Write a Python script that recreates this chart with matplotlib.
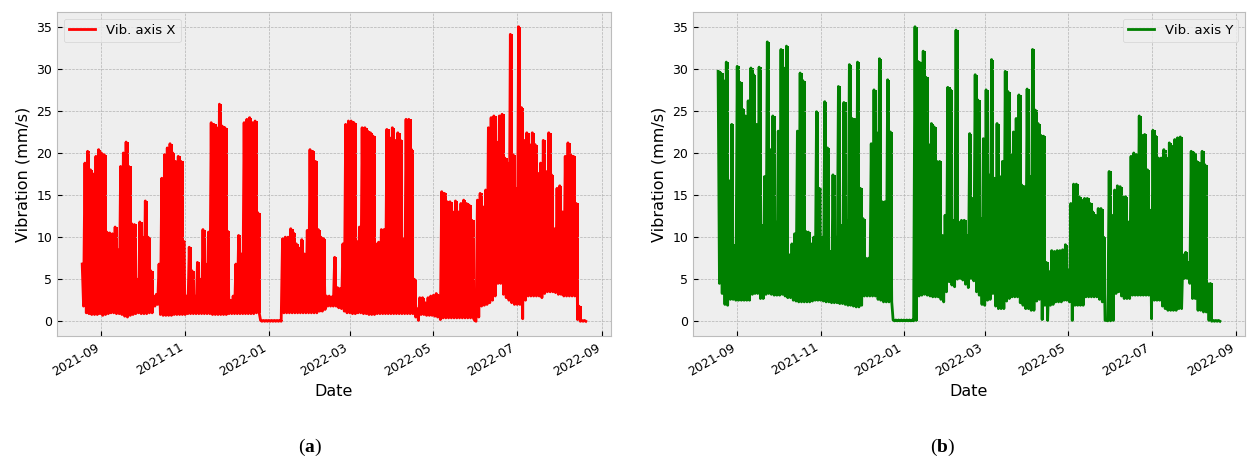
import numpy as np
import pandas as pd
import matplotlib
matplotlib.use("Agg")
import matplotlib.pyplot as plt
import matplotlib.dates as mdates

# =============================================================================
# Data: envelope, one (max, min) pair per 2-day bin
# =============================================================================

START_DATE = "2021-08-18"

X_HIGH = [
    6.8, 18.8, 20.2, 18.0, 17.5, 19.6, 20.4, 20.0, 19.8, 10.6,
    10.5, 10.4, 11.2, 8.5, 18.4, 20.0, 21.3, 18.4, 11.6, 11.5,
    5.0, 11.8, 10.0, 14.3, 10.0, 6.0, 3.0, 3.2, 6.8, 17.0,
    19.8, 20.6, 21.1, 20.0, 19.0, 19.6, 19.0, 9.5, 3.0, 8.8,
    6.0, 3.0, 7.0, 5.0, 10.9, 6.8, 10.6, 23.6, 23.4, 23.0,
    25.8, 23.2, 23.0, 10.7, 2.5, 3.0, 6.8, 10.2, 8.0, 23.6,
    24.0, 24.2, 23.6, 23.8, 12.9, 0.1, 0.1, 0.1, 0.1, 0.1,
    0.1, 0.1, 0.1, 9.8, 10.0, 10.0, 11.0, 10.5, 9.2, 8.7,
    9.7, 8.0, 10.8, 20.4, 20.2, 19.0, 10.9, 10.0, 9.8, 3.0,
    3.0, 2.9, 7.6, 4.0, 3.9, 9.2, 23.4, 23.8, 23.8, 23.6,
    9.5, 11.2, 23.0, 23.0, 22.6, 22.4, 22.0, 9.2, 9.4, 10.9,
    10.9, 22.8, 21.8, 23.0, 21.5, 22.4, 21.5, 9.8, 24.0, 24.0,
    20.4, 5.0, 1.5, 2.8, 2.8, 2.2, 2.8, 3.0, 3.1, 3.3,
    3.0, 15.4, 15.2, 14.2, 14.2, 13.0, 14.3, 13.0, 14.0, 14.4,
    14.0, 13.8, 12.0, 0.1, 14.4, 15.2, 13.6, 15.6, 23.0, 24.2,
    24.4, 21.3, 24.4, 24.6, 19.4, 18.8, 34.1, 19.8, 15.8, 35.0,
    25.4, 21.5, 22.4, 21.0, 22.4, 21.0, 17.6, 18.8, 21.5, 17.8,
    22.4, 17.4, 11.0, 15.8, 16.1, 13.0, 19.6, 21.2, 19.8, 19.6,
    14.0, 1.8, 0.1, 0.1,
]

X_LOW = [
    1.8, 1.0, 0.9, 0.8, 0.8, 0.8, 0.9, 0.7, 0.8, 0.9,
    1.0, 1.0, 0.9, 0.9, 0.8, 0.6, 0.5, 0.7, 0.8, 0.9,
    1.0, 0.9, 0.9, 0.9, 1.0, 1.0, 1.8, 2.0, 0.8, 0.7,
    0.7, 0.7, 0.7, 0.8, 0.8, 0.8, 0.8, 0.8, 0.9, 0.9,
    0.9, 0.9, 0.9, 0.9, 0.9, 0.9, 0.9, 0.8, 0.8, 0.8,
    0.8, 0.8, 0.8, 0.9, 0.9, 0.9, 0.9, 0.9, 0.9, 0.9,
    0.9, 0.9, 0.9, 1.0, 1.0, 0.0, 0.0, 0.0, 0.0, 0.0,
    0.0, 0.0, 0.0, 1.0, 1.0, 1.0, 1.0, 1.0, 1.0, 1.0,
    1.0, 1.0, 1.0, 1.0, 1.0, 1.0, 1.2, 1.2, 1.4, 1.8,
    1.8, 1.8, 1.8, 1.6, 1.5, 1.2, 1.0, 1.0, 0.9, 0.9,
    1.0, 1.0, 0.9, 0.9, 0.8, 0.8, 0.8, 0.9, 0.9, 0.9,
    0.9, 0.9, 0.9, 0.9, 0.9, 0.9, 0.9, 0.9, 0.9, 0.9,
    0.9, 0.5, 0.1, 0.8, 0.8, 0.7, 0.7, 0.7, 0.6, 0.5,
    0.2, 0.4, 0.4, 0.4, 0.4, 0.4, 0.4, 0.4, 0.4, 0.4,
    0.4, 0.4, 0.4, 0.0, 0.5, 1.8, 1.9, 2.0, 2.2, 2.5,
    3.0, 4.5, 4.5, 3.2, 2.8, 2.5, 2.2, 2.0, 2.0, 2.0,
    0.3, 2.5, 3.0, 3.0, 3.0, 3.0, 3.0, 2.8, 3.3, 3.5,
    3.5, 3.5, 3.4, 3.2, 3.2, 3.0, 3.0, 3.0, 3.0, 3.0,
    0.2, 0.0, 0.0, 0.0,
]

Y_HIGH = [
    29.7, 29.5, 28.6, 30.8, 16.7, 23.4, 9.0, 30.3, 28.4, 25.2,
    24.4, 26.2, 30.1, 29.3, 23.4, 30.2, 11.4, 17.2, 33.2, 20.4,
    24.4, 11.8, 22.6, 32.3, 30.1, 32.7, 7.9, 9.2, 10.4, 22.6,
    29.5, 28.6, 10.7, 10.6, 9.2, 10.0, 24.9, 15.8, 10.0, 26.1,
    20.6, 8.3, 17.4, 10.0, 27.9, 11.4, 26.0, 12.0, 30.5, 24.1,
    24.0, 30.8, 15.8, 12.2, 7.5, 7.5, 21.1, 27.5, 22.4, 31.2,
    14.2, 14.2, 28.7, 22.5, 0.15, 0.15, 0.15, 0.15, 0.15, 0.15,
    0.15, 0.15, 35.0, 30.9, 30.7, 32.1, 29.0, 21.0, 23.5, 23.1,
    19.0, 19.0, 10.2, 12.6, 27.8, 27.5, 12.0, 34.6, 11.8, 12.0,
    12.0, 10.2, 22.3, 14.6, 29.3, 26.3, 12.2, 21.7, 27.5, 17.4,
    31.1, 17.0, 23.5, 17.2, 19.0, 29.7, 27.3, 19.8, 22.5, 24.1,
    26.9, 16.2, 16.0, 27.6, 17.2, 32.3, 25.1, 23.5, 22.1, 22.0,
    7.0, 5.9, 8.4, 8.3, 8.4, 8.4, 8.5, 9.1, 6.1, 14.0,
    16.3, 16.3, 14.8, 14.4, 14.6, 14.6, 14.0, 13.0, 12.6, 13.4,
    13.4, 10.0, 0.1, 17.8, 12.6, 15.6, 16.1, 16.0, 14.8, 14.8,
    11.8, 19.6, 20.0, 19.8, 24.4, 22.1, 22.2, 18.0, 13.2, 22.7,
    22.0, 19.4, 19.4, 20.4, 19.4, 21.2, 20.8, 21.6, 21.8, 21.9,
    7.9, 8.2, 7.0, 20.2, 20.0, 19.0, 18.8, 20.2, 18.6, 4.5,
    4.5, 0.1, 0.1, 0.1,
]

Y_LOW = [
    4.5, 3.3, 2.0, 1.9, 2.6, 2.6, 2.5, 2.5, 2.5, 2.5,
    2.5, 2.5, 3.2, 3.3, 3.3, 2.7, 2.7, 3.2, 3.3, 3.2,
    3.1, 3.1, 3.1, 3.2, 3.0, 2.8, 2.8, 2.5, 2.4, 2.3,
    2.3, 2.3, 2.3, 2.3, 2.4, 2.5, 2.5, 2.5, 2.4, 2.3,
    2.3, 2.2, 2.2, 2.2, 2.1, 2.1, 2.0, 1.9, 1.9, 1.8,
    1.7, 1.7, 1.9, 3.0, 3.0, 3.0, 3.0, 3.0, 2.6, 2.5,
    2.3, 2.3, 2.3, 2.3, 0.05, 0.05, 0.05, 0.05, 0.05, 0.05,
    0.05, 0.05, 0.1, 3.0, 3.1, 3.2, 3.1, 3.0, 2.9, 2.9,
    2.9, 2.6, 2.3, 3.5, 4.7, 4.3, 4.1, 5.0, 5.1, 4.9,
    4.4, 4.0, 5.1, 4.8, 3.5, 3.1, 2.0, 1.9, 2.5, 2.6,
    3.3, 1.8, 1.5, 1.5, 1.5, 2.4, 2.7, 2.9, 2.9, 2.9,
    2.2, 1.9, 1.5, 1.5, 1.3, 1.3, 2.4, 2.6, 0.2, 1.9,
    0.1, 1.9, 2.0, 2.3, 2.3, 2.3, 2.5, 2.5, 2.3, 0.1,
    1.9, 1.9, 1.9, 1.9, 2.9, 2.9, 2.9, 2.9, 2.9, 2.6,
    2.3, 0.1, 0.05, 0.05, 0.1, 3.3, 3.5, 3.0, 2.7, 2.7,
    2.7, 3.1, 3.1, 3.1, 3.1, 3.1, 3.1, 3.1, 0.3, 2.5,
    2.5, 2.5, 1.8, 1.5, 1.3, 1.3, 1.3, 1.3, 1.5, 1.5,
    5.1, 5.1, 4.5, 2.7, 2.7, 1.3, 1.3, 1.1, 1.1, 0.1,
    0.0, 0.0, 0.0, 0.0,
]

PANELS = [
    ("Vib. axis X", X_HIGH, X_LOW, "red", "upper left", "a"),
    ("Vib. axis Y", Y_HIGH, Y_LOW, "green", "upper right", "b"),
]


# =============================================================================
# Helpers
# =============================================================================

def _bins(high, low):
    n = min(len(high), len(low))
    t = pd.date_range(START_DATE, periods=n, freq="2D")
    return t, np.asarray(high[:n]), np.asarray(low[:n])


def _zigzag(t, high, low):
    """Interleave bin maxima and minima (max at bin start, min one day later)."""
    n = len(t)
    times = np.empty(2 * n, dtype="datetime64[ns]")
    times[0::2] = t.values
    times[1::2] = (t + pd.Timedelta(days=1)).values
    vals = np.empty(2 * n)
    vals[0::2] = high
    vals[1::2] = low
    return times, vals


# =============================================================================
# Plot
# =============================================================================

plt.style.use("bmh")
plt.rcParams["font.size"] = 9
plt.rcParams["axes.labelsize"] = 11.5
plt.rcParams["legend.fontsize"] = 9.5
plt.rcParams["mathtext.fontset"] = "custom"
plt.rcParams["mathtext.bf"] = "Liberation Serif:bold"
plt.rcParams["mathtext.rm"] = "Liberation Serif"

fig = plt.figure(figsize=(12.47, 4.62), dpi=100, facecolor="white")

rects = [
    [57 / 1247, 126 / 462, 554 / 1247, 324 / 462],
    [693 / 1247, 126 / 462, 552 / 1247, 324 / 462],
]
caption_x = [310 / 1247, 943 / 1247]

for rect, cx, (label, high, low, color, loc, tag) in zip(rects, caption_x, PANELS):
    ax = fig.add_axes(rect)
    t, hi, lo = _bins(high, low)

    # solid band between the per-bin min and max, then the thick trace on top
    ax.fill_between(t, lo, hi, step="post", color=color, lw=0)
    times, vals = _zigzag(t, hi, lo)
    ax.plot(times, vals, color=color, lw=2, label=label)

    ax.xaxis.set_major_locator(mdates.MonthLocator(bymonth=[1, 3, 5, 7, 9, 11]))
    ax.xaxis.set_major_formatter(mdates.DateFormatter("%Y-%m"))
    for tl in ax.get_xticklabels():
        tl.set_rotation(30)
        tl.set_ha("right")

    ax.set_xlabel("Date")
    ax.set_ylabel("Vibration (mm/s)")
    ax.legend(loc=loc)

    fig.text(cx, 15 / 462, "(" + r"$\mathbf{" + tag + "}$" + ")",
             ha="center", va="center", fontsize=14, family="Liberation Serif")

plt.savefig("out.png", dpi=100, facecolor="white")
plt.close(fig)
